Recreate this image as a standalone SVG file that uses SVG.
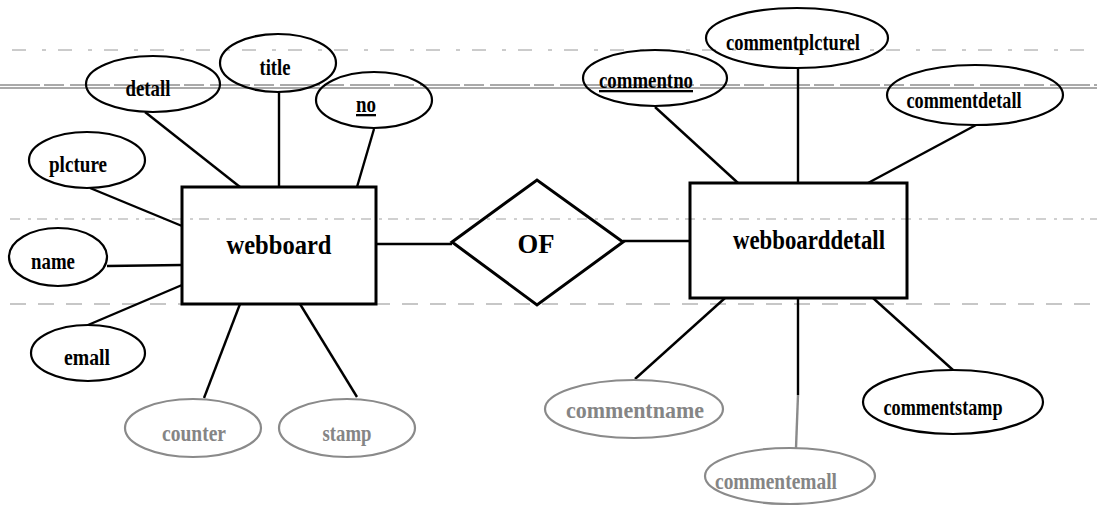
<svg xmlns="http://www.w3.org/2000/svg" width="1097" height="505" viewBox="0 0 1097 505">
  <style>
    .bg { fill: #ffffff; }
    .rule { stroke: #555; stroke-width: 1; fill: none; }
    .attr { fill: none; stroke: #000; stroke-width: 2.2; }
    .attr.dim { stroke: #8a8a8a; }
    .ent { fill: none; stroke: #000; stroke-width: 3; }
    .rel { fill: none; stroke: #000; stroke-width: 3; }
    .link { stroke: #000; stroke-width: 2.4; fill: none; }
    .link.dim { stroke: #8a8a8a; }
    text { font-family: "Liberation Serif", "Times New Roman", serif; font-weight: bold; text-anchor: middle; fill: #000; }
    .lbl { font-size: 23px; }
    .lbl.dim { fill: #858585; }
    .big { font-size: 27px; }
    .key { text-decoration: underline; }
  </style>

  <rect class="bg" x="0" y="0" width="1097" height="505"/>

  <!-- faint horizontal ruling that runs across the sheet -->
  <g id="rules">
    <line class="rule" x1="12" y1="50" x2="1097" y2="50" stroke-dasharray="14 16 4 12" opacity="0.6"/>
    <line class="rule" x1="0" y1="85" x2="1097" y2="85" stroke-dasharray="40 4 20 6" stroke-width="1.2"/>
    <line class="rule" x1="0" y1="88" x2="1097" y2="88" stroke-width="1"/>
    <line class="rule" x1="10" y1="219" x2="1097" y2="219" stroke-dasharray="10 8 3 6" opacity="0.55"/>
    <line class="rule" x1="10" y1="304" x2="1097" y2="304" stroke-dasharray="16 12" opacity="0.65"/>
  </g>

  <!-- connectors -->
  <g id="connectors">
    <line class="link" x1="145" y1="112" x2="240" y2="187"/>
    <line class="link" x1="279" y1="92" x2="279" y2="187"/>
    <line class="link" x1="374" y1="129" x2="357" y2="187"/>
    <line class="link" x1="90" y1="188" x2="182" y2="226"/>
    <line class="link" x1="107" y1="266" x2="182" y2="265"/>
    <line class="link" x1="88" y1="325" x2="182" y2="285"/>
    <line class="link" x1="240" y1="304" x2="204" y2="398"/>
    <line class="link" x1="300" y1="304" x2="357" y2="397"/>
    <line class="link" x1="376" y1="244" x2="452" y2="244"/>
    <line class="link" x1="623" y1="241" x2="690" y2="241"/>
    <line class="link" x1="655" y1="107" x2="738" y2="183"/>
    <line class="link" x1="798" y1="68" x2="798" y2="183"/>
    <line class="link" x1="976" y1="125" x2="868" y2="183"/>
    <line class="link" x1="725" y1="298" x2="635" y2="379"/>
    <line class="link" x1="798" y1="298" x2="798" y2="395"/>
    <line class="link dim" x1="798" y1="395" x2="796" y2="448"/>
    <line class="link" x1="873" y1="298" x2="953" y2="370"/>
  </g>

  <!-- entity: webboard -->
  <g id="webboard">
    <rect class="ent" x="182" y="187" width="194" height="117"/>
    <text class="big" x="279" y="254" textLength="105" lengthAdjust="spacingAndGlyphs">webboard</text>
  </g>

  <!-- relationship -->
  <g id="of">
    <polygon class="rel" points="452,242 537,180 623,242 537,305"/>
    <text x="536" y="253" font-size="27" textLength="37" lengthAdjust="spacingAndGlyphs">OF</text>
  </g>

  <!-- entity: webboarddetall -->
  <g id="webboarddetall">
    <rect class="ent" x="690" y="183" width="217" height="115"/>
    <text class="big" x="809" y="249" textLength="152" lengthAdjust="spacingAndGlyphs">webboarddetall</text>
  </g>

  <!-- attributes of webboard -->
  <g id="attr-detall">
    <ellipse class="attr" cx="153" cy="84" rx="67" ry="28"/>
    <text class="lbl" x="148" y="96" textLength="45" lengthAdjust="spacingAndGlyphs">detall</text>
  </g>
  <g id="attr-title">
    <ellipse class="attr" cx="278" cy="63" rx="58" ry="29"/>
    <text class="lbl" x="275" y="75" textLength="31" lengthAdjust="spacingAndGlyphs">title</text>
  </g>
  <g id="attr-no">
    <ellipse class="attr" cx="374" cy="100" rx="58" ry="28"/>
    <text class="lbl key" x="366" y="112" textLength="20" lengthAdjust="spacingAndGlyphs">no</text>
  </g>
  <g id="attr-plcture">
    <ellipse class="attr" cx="87" cy="160" rx="58" ry="28"/>
    <text class="lbl" x="78" y="172" textLength="58" lengthAdjust="spacingAndGlyphs">plcture</text>
  </g>
  <g id="attr-name">
    <ellipse class="attr" cx="58" cy="257" rx="49" ry="29"/>
    <text class="lbl" x="53" y="269" textLength="44" lengthAdjust="spacingAndGlyphs">name</text>
  </g>
  <g id="attr-emall">
    <ellipse class="attr" cx="88" cy="353" rx="57" ry="28"/>
    <text class="lbl" x="87" y="365" textLength="46" lengthAdjust="spacingAndGlyphs">emall</text>
  </g>
  <g id="attr-counter">
    <ellipse class="attr dim" cx="193" cy="428" rx="68" ry="29"/>
    <text class="lbl dim" x="194" y="441" textLength="64" lengthAdjust="spacingAndGlyphs">counter</text>
  </g>
  <g id="attr-stamp">
    <ellipse class="attr dim" cx="347" cy="428" rx="68" ry="29"/>
    <text class="lbl dim" x="347" y="441" textLength="49" lengthAdjust="spacingAndGlyphs">stamp</text>
  </g>

  <!-- attributes of webboarddetall -->
  <g id="attr-commentno">
    <ellipse class="attr" cx="655" cy="78" rx="72" ry="28"/>
    <text class="lbl key" x="646" y="88" textLength="94" lengthAdjust="spacingAndGlyphs">commentno</text>
  </g>
  <g id="attr-commentplcturel">
    <ellipse class="attr" cx="797" cy="38" rx="91" ry="30"/>
    <text class="lbl" x="793" y="50" textLength="134" lengthAdjust="spacingAndGlyphs">commentplcturel</text>
  </g>
  <g id="attr-commentdetall">
    <ellipse class="attr" cx="975" cy="95" rx="88" ry="30"/>
    <text class="lbl" x="964" y="108" textLength="115" lengthAdjust="spacingAndGlyphs">commentdetall</text>
  </g>
  <g id="attr-commentname">
    <ellipse class="attr dim" cx="634" cy="409" rx="89" ry="29"/>
    <text class="lbl dim" x="635" y="418" textLength="138" lengthAdjust="spacingAndGlyphs">commentname</text>
  </g>
  <g id="attr-commentemall">
    <ellipse class="attr dim" cx="790" cy="476" rx="85" ry="28"/>
    <text class="lbl dim" x="776" y="489" textLength="122" lengthAdjust="spacingAndGlyphs">commentemall</text>
  </g>
  <g id="attr-commentstamp">
    <ellipse class="attr" cx="953" cy="402" rx="90" ry="32"/>
    <text class="lbl" x="943" y="415" textLength="119" lengthAdjust="spacingAndGlyphs">commentstamp</text>
  </g>
</svg>
